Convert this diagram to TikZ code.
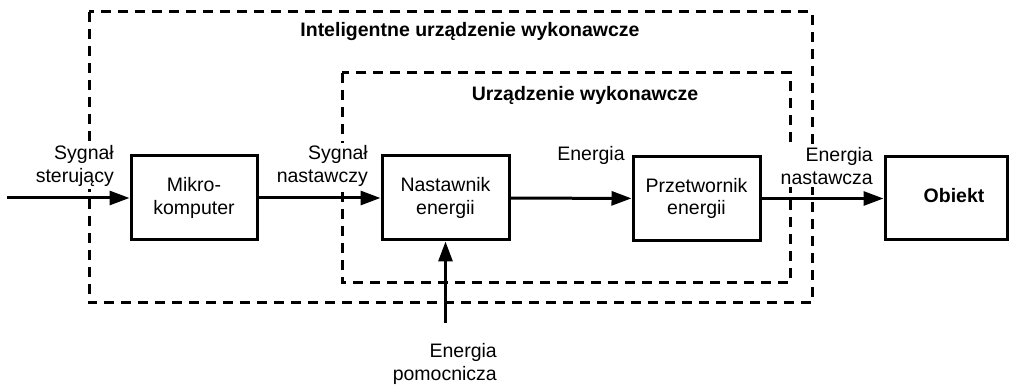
\documentclass[tikz,border=0pt]{standalone}
\usepackage{fontspec}
\setmainfont{Liberation Sans}
\usetikzlibrary{arrows.meta}
\begin{document}
\begin{tikzpicture}[x=1pt,y=-1pt,
  txt/.style={font=\fontsize{19.5}{22.5}\selectfont},
  blk/.style={txt,draw,fill=white,line width=3pt,align=center,inner sep=0pt},
  lbl/.style={txt,inner sep=0pt},
  sig/.style={txt,fill=white,inner sep=3pt},
  conn/.style={line width=3pt,-{Triangle[length=20pt,width=14pt]}},
  frame/.style={line width=3pt,dash pattern=on 10pt off 7pt}]
\useasboundingbox (0,0) rectangle (1010,387);
% dashed enclosures
\draw[frame] (89,12) rectangle (812,303);
\draw[frame] (342,73) rectangle (790,283);
\node[lbl,font=\fontsize{19.5}{22.5}\selectfont\bfseries] (tout) at (470,32) {Inteligentne urządzenie wykonawcze};
\node[lbl,font=\fontsize{19.5}{22.5}\selectfont\bfseries] (tin) at (585,95) {Urządzenie wykonawcze};
% signal labels, masking the dashed lines behind them
\node[sig,align=right,anchor=east] (l1) at (117,166) {Sygnał\\sterujący};
\node[sig,align=right,anchor=east] (l2) at (371,166) {Sygnał\\nastawczy};
\node[sig] (l3) at (591,155) {Energia};
\node[sig,align=right,anchor=east] (l4) at (876,166) {Energia\\nastawcza};
\node[sig,align=right,anchor=east] (l5) at (500,364) {Energia\\pomocnicza};
% blocks
\node[blk,minimum width=126,minimum height=84] (mk) at (194,198) {Mikro-\\komputer};
\node[blk,minimum width=127,minimum height=84] (nas) at (445.5,198) {Nastawnik\\energii};
\node[blk,minimum width=127,minimum height=84] (prz) at (696.5,198.5) {Przetwornik\\energii};
\node[blk,minimum width=122,minimum height=83] (obj) at (946,198.5) {};
\node[lbl,font=\fontsize{19.5}{22.5}\selectfont\bfseries] (objt) at (954,196) {Obiekt};
% signal flow
\coordinate (in) at (7,198);
\coordinate (aux) at (445.5,323);
\draw[conn] (in) -- (mk);
\draw[conn] (mk) -- (nas);
\draw[conn] (nas) -- (prz);
\draw[conn] (prz) -- (obj);
\draw[conn] (aux) -- (nas);
\end{tikzpicture}
\end{document}
